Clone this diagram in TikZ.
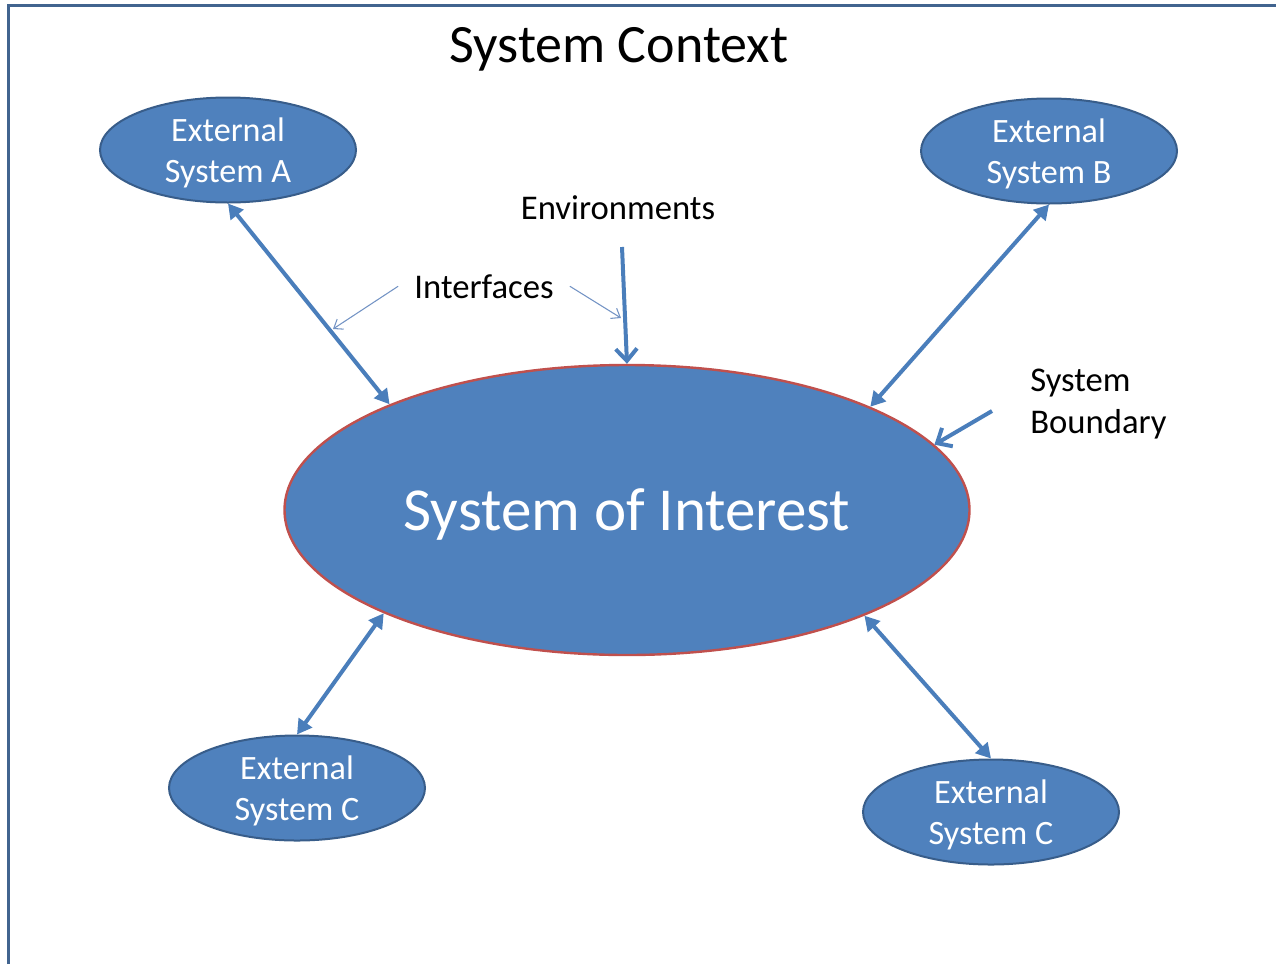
\documentclass[tikz,border=0pt]{standalone}
\usepackage{fontspec}
\setmainfont{Carlito}
\usepackage{tikz}
\usetikzlibrary{arrows.meta,shapes.geometric}
\definecolor{ofblue}{HTML}{4F81BD}
\definecolor{ofedge}{HTML}{385D8A}
\definecolor{ofred}{HTML}{C0504D}
\definecolor{ofarrow}{HTML}{4A7EBB}
\definecolor{ofthin}{HTML}{7393C4}
\definecolor{offrame}{HTML}{41648F}
\tikzset{
	extsys/.style={ellipse, fill=ofblue, draw=ofedge, line width=1.5pt, inner sep=0pt,
		minimum width=192pt, minimum height=78.75pt, text=white, align=center, text depth=0pt,
		font=\fontsize{25.6}{30.75}\selectfont},
	label/.style={text=black, font=\fontsize{26}{31}\selectfont},
	iface/.style={ofarrow, line width=3pt, {Triangle[length=11pt,width=12pt]}-{Triangle[length=11pt,width=12pt]}},
	inarrow/.style={ofarrow, line width=3pt, -{Straight Barb[length=9pt,width=16pt]}},
	thinarrow/.style={ofthin, line width=0.8pt, -{Straight Barb[length=6pt,width=9pt]}}
}

\begin{document}
\begin{tikzpicture}[x=0.75pt, y=-0.75pt]
		%%%%% START %%%%%
		\useasboundingbox (0, 0) rectangle (1276, 964);
		\draw[offrame, line width=2.25pt] (8, 964) -- (8, 5) -- (1276, 5);
		
		\node[anchor=base, font=\fontsize{40.5}{48}\selectfont] (title) at (619, 62) {System Context};
		
		\node[ellipse, fill=ofblue, draw=ofred, line width=1.8pt, inner sep=0pt, minimum width=513.75pt, minimum height=217.5pt, text=white, text depth=0pt, font=\fontsize{45.8}{55}\selectfont] (soi) at (627, 510) {System of Interest};
		
		\node[extsys] (extA) at (228, 150) {External\\System A};
		\node[extsys] (extB) at (1049, 151) {External\\System B};
		\node[extsys] (extCl) at (297, 788) {External\\System C};
		\node[extsys] (extCr) at (991, 812) {External\\System C};
		
		\node[label, anchor=base] (env) at (618, 219) {Environments};
		\node[label, anchor=base, inner xsep=12pt] (ifc) at (484, 298) {Interfaces};
		\node[label, anchor=base west, align=left, inner sep=0pt] (sbd) at (1030, 433) {System\\Boundary};
		
		\draw[iface] (extA.south) -- (soi.156.5);
		\draw[iface] (extB.south) -- (soi.23.4);
		\draw[iface] (soi.203.3) -- (extCl.north);
		\draw[iface] (soi.336.8) -- (extCr.north);
		
		\coordinate (envtop) at (622, 247);
		\draw[inarrow] (envtop) -- (soi.north);
		\coordinate (sbdtail) at (992, 411);
		\draw[inarrow] (sbdtail) -- (soi.12.7);
		
		\coordinate (ifcA) at (333, 329);
		\coordinate (ifcE) at (621, 318);
		\draw[thinarrow] (ifc.west) -- (ifcA);
		\draw[thinarrow] (ifc.east) -- (ifcE);
		%%%%% END %%%%%
\end{tikzpicture}
\end{document}
